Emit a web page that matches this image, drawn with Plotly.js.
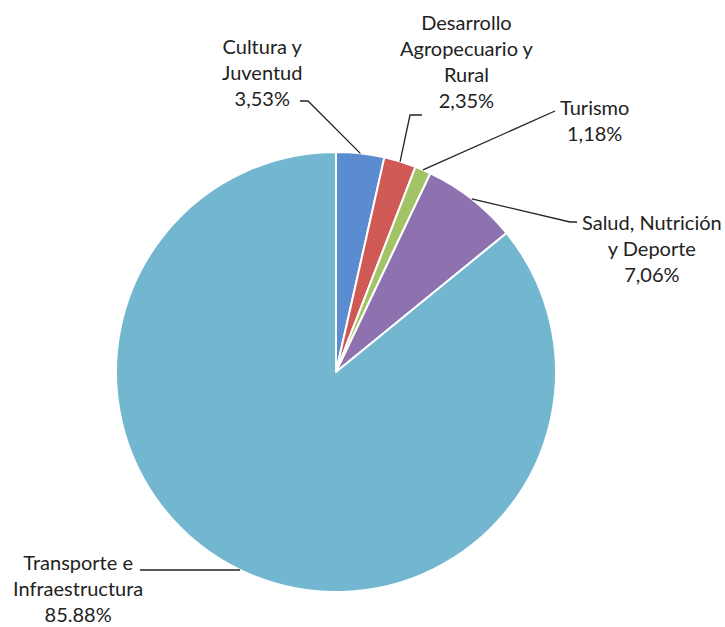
<!DOCTYPE html>
<html><head><meta charset="utf-8">
<script src="https://cdn.plot.ly/plotly-3.0.1.min.js"></script>
<style>html,body{margin:0;padding:0;background:#fff}#chart{width:725px;height:627px}</style>
</head><body><div id="chart"></div>
<script>
const categories = ["Cultura y Juventud", "Desarrollo Agropecuario y Rural", "Turismo", "Salud, Nutrición y Deporte", "Transporte e Infraestructura"];
const labelTexts = ["Cultura y<br>Juventud<br>3,53%", "Desarrollo<br>Agropecuario y<br>Rural<br>2,35%", "Turismo<br>1,18%", "Salud, Nutrición<br>y Deporte<br>7,06%", "Transporte e<br>Infraestructura<br>85.88%"];
const values = [3.53, 2.35, 1.18, 7.06, 85.88];
const colors = ["#5B8CCF", "#CF5A55", "#A3C466", "#8E72B0", "#72B7CF"];

// layout geometry (pixels)
const W = 725, H = 627, cx = 336, cy = 372, R = 220;
// label centres and leader-line start points (pixels)
const labelPos = [[262, 72], [467, 61], [594, 120], [652, 248], [78, 588]];
const leaderStart = [[[300, 101], [308, 101]], [[422, 115], [410, 115]], [[555, 111]], [[577, 222], [570, 222]], [[140, 570]]];

const px = x => x / W, py = y => 1 - y / H;
const total = values.reduce((a, b) => a + b, 0);
let cum = 0;
const shapes = [], annotations = [];
values.forEach((v, i) => {
  const mid = (cum + v / 2) / total * 2 * Math.PI;
  cum += v;
  let ex = cx + R * Math.sin(mid), ey = cy - R * Math.cos(mid);
  const pts = leaderStart[i];
  if (i === 4) { // horizontal leader meets the circle at the label's height
    ey = pts[0][1];
    ex = cx - Math.sqrt(R * R - (ey - cy) * (ey - cy));
  }
  const all = pts.concat([[ex, ey]]);
  const path = all.map((p, k) => (k ? "L" : "M") + px(p[0]).toFixed(5) + "," + py(p[1]).toFixed(5)).join(" ");
  shapes.push({type: "path", xref: "paper", yref: "paper", path: path, line: {color: "#222", width: 1.3}});
  annotations.push({text: labelTexts[i], x: px(labelPos[i][0]), y: py(labelPos[i][1]), xref: "paper", yref: "paper",
    xanchor: "center", yanchor: "middle", showarrow: false, align: "center",
    font: {family: "Lato, 'DejaVu Sans', sans-serif", size: 20, color: "#222"}});
});

const data = [{
  type: "pie", labels: categories, values: values, sort: false, direction: "clockwise", rotation: 0,
  textinfo: "none", hoverinfo: "label+percent",
  marker: {colors: colors, line: {color: "#ffffff", width: 2}},
  domain: {x: [px(cx - R), px(cx + R)], y: [py(cy + R), py(cy - R)]}
}];
const layout = {width: W, height: H, margin: {l: 0, r: 0, t: 0, b: 0}, showlegend: false,
  paper_bgcolor: "#fff", shapes: shapes, annotations: annotations};
Plotly.newPlot("chart", data, layout, {displayModeBar: false, staticPlot: true});
</script></body></html>
